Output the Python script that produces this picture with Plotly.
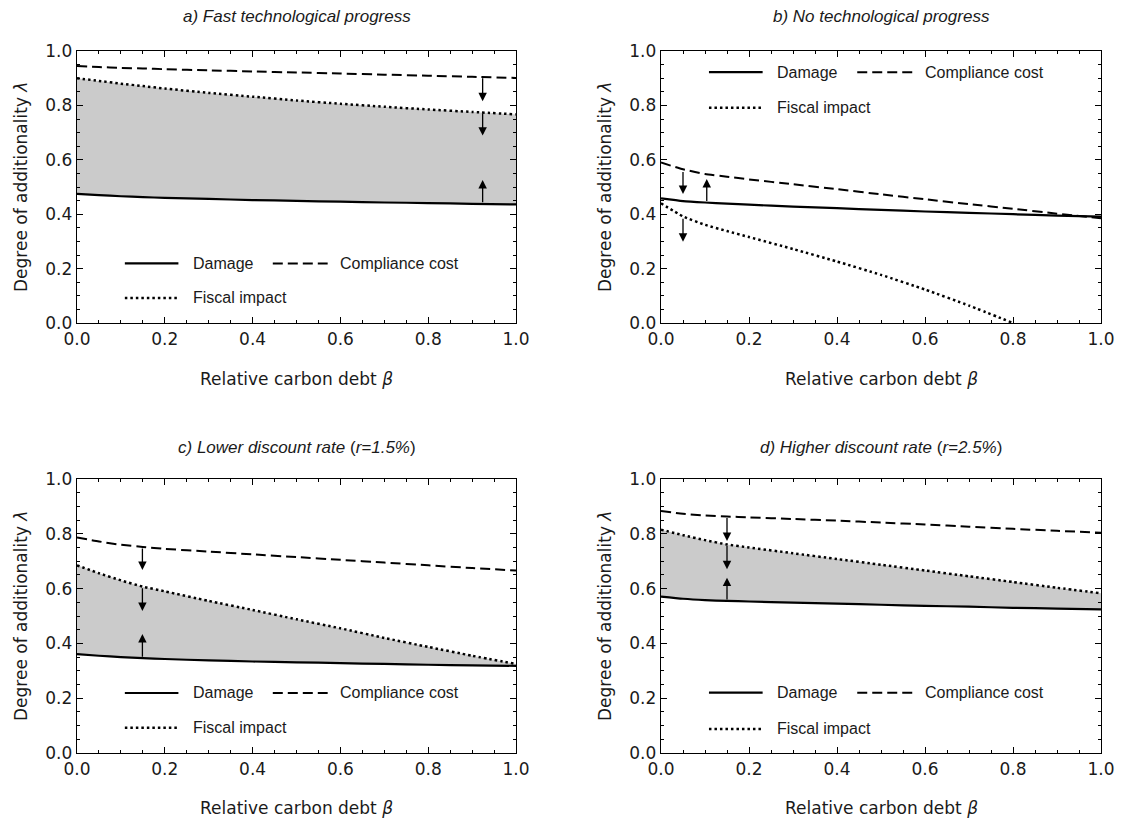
import plotly.graph_objects as go

# ---------------- data ----------------
BETA = [0.0, 0.05, 0.1, 0.15, 0.2, 0.3, 0.4, 0.5, 0.6, 0.7, 0.8, 0.9, 1.0]

A_DAMAGE = [0.475, 0.470, 0.466, 0.463, 0.460, 0.456, 0.452, 0.449, 0.446, 0.443, 0.441, 0.438, 0.436]
A_COMPLIANCE = [0.945, 0.941, 0.938, 0.936, 0.933, 0.929, 0.925, 0.921, 0.917, 0.913, 0.909, 0.905, 0.901]
A_FISCAL = [0.900, 0.890, 0.880, 0.871, 0.862, 0.846, 0.832, 0.818, 0.806, 0.795, 0.785, 0.776, 0.767]

B_DAMAGE = [0.458, 0.448, 0.443, 0.439, 0.435, 0.428, 0.422, 0.416, 0.410, 0.405, 0.400, 0.395, 0.391]
B_COMPLIANCE = [0.590, 0.565, 0.548, 0.538, 0.528, 0.510, 0.492, 0.473, 0.455, 0.437, 0.420, 0.402, 0.385]
B_FISCAL = [0.440, 0.392, 0.361, 0.338, 0.316, 0.272, 0.226, 0.177, 0.123, 0.064, 0.000, None, None]

C_DAMAGE = [0.361, 0.355, 0.350, 0.346, 0.343, 0.338, 0.334, 0.331, 0.328, 0.325, 0.322, 0.320, 0.318]
C_COMPLIANCE = [0.787, 0.772, 0.760, 0.752, 0.745, 0.735, 0.725, 0.715, 0.705, 0.695, 0.685, 0.675, 0.666]
C_FISCAL = [0.685, 0.656, 0.630, 0.607, 0.590, 0.555, 0.522, 0.488, 0.455, 0.420, 0.387, 0.355, 0.325]

D_DAMAGE = [0.571, 0.563, 0.558, 0.555, 0.553, 0.549, 0.545, 0.541, 0.537, 0.534, 0.530, 0.527, 0.524]
D_COMPLIANCE = [0.883, 0.873, 0.867, 0.863, 0.860, 0.854, 0.848, 0.841, 0.834, 0.826, 0.818, 0.811, 0.804]
D_FISCAL = [0.815, 0.795, 0.777, 0.761, 0.750, 0.729, 0.708, 0.687, 0.666, 0.645, 0.624, 0.603, 0.583]

# arrows: (beta, from lambda, to lambda)
A_ARROWS = [(0.924, 0.905, 0.815), (0.924, 0.776, 0.689), (0.924, 0.438, 0.526)]
B_ARROWS = [(0.050, 0.561, 0.474), (0.104, 0.443, 0.529), (0.050, 0.389, 0.299)]
C_ARROWS = [(0.149, 0.752, 0.668), (0.149, 0.607, 0.518), (0.149, 0.346, 0.434)]
D_ARROWS = [(0.150, 0.863, 0.774), (0.150, 0.761, 0.671), (0.150, 0.555, 0.640)]

TITLES = [
    "<i>a) Fast technological progress</i>",
    "<i>b) No technological progress</i>",
    "<i>c) Lower discount rate </i>(<i>r=1.5%</i>)",
    "<i>d) Higher discount rate </i>(<i>r=2.5%</i>)",
]
X_TICKS = [0.0, 0.2, 0.4, 0.6, 0.8, 1.0]
X_TICK_LABELS = ["0.0", "0.2", "0.4", "0.6", "0.8", "1.0"]
Y_TICKS = [0.0, 0.2, 0.4, 0.6, 0.8, 1.0]
Y_TICK_LABELS = ["0.0", "0.2", "0.4", "0.6", "0.8", "1.0"]
X_TITLE = "Relative carbon debt <i>β</i>"
Y_TITLE = "Degree of additionality <i>λ</i>"
LEGEND_NAMES = ["Damage", "Compliance cost", "Fiscal impact"]

# ---------------- layout constants ----------------
W, H = 1121, 821
PX = lambda p: p / W
PY = lambda p: 1 - p / H
XD = [[PX(77), PX(516)], [PX(661), PX(1101)], [PX(77), PX(516)], [PX(661), PX(1101)]]
YD = [[PY(323), PY(51)], [PY(323), PY(51)], [PY(753), PY(479)], [PY(753), PY(479)]]
TITLE_Y = [16, 16, 447, 447]
XTITLE_Y = [379, 379, 808, 808]
LEGEND_ROWS = [(0.219, 0.092), (0.922, 0.791), (0.219, 0.092), (0.220, 0.088)]
FILL = [True, False, True, True]

TICK_FONT = dict(family="DejaVu Sans", size=17, color="#1a1a1a")
TEXT_FONT = dict(family="Liberation Sans, Arial", size=16, color="#1a1a1a")
DASH = "10px,5px"
DOT = "2.5px,3px"

panels = [
    (A_DAMAGE, A_COMPLIANCE, A_FISCAL, A_ARROWS),
    (B_DAMAGE, B_COMPLIANCE, B_FISCAL, B_ARROWS),
    (C_DAMAGE, C_COMPLIANCE, C_FISCAL, C_ARROWS),
    (D_DAMAGE, D_COMPLIANCE, D_FISCAL, D_ARROWS),
]

fig = go.Figure()
annotations = []
shapes = []
layout = dict(
    template="none",
    width=W, height=H, margin=dict(l=0, r=0, t=0, b=0, pad=0, autoexpand=False),
    paper_bgcolor="white", plot_bgcolor="white", showlegend=False,
)

for i, (dmg, comp, fis, arrows) in enumerate(panels):
    n = i + 1
    xa = "x" if n == 1 else f"x{n}"
    ya = "y" if n == 1 else f"y{n}"
    line_s = dict(shape="spline", smoothing=0.5)
    if FILL[i]:
        fig.add_trace(go.Scatter(x=BETA, y=dmg, xaxis=xa, yaxis=ya, mode="lines",
                                 line=dict(width=0, **line_s), hoverinfo="skip"))
        fig.add_trace(go.Scatter(x=BETA, y=fis, xaxis=xa, yaxis=ya, mode="lines",
                                 line=dict(width=0, **line_s), fill="tonexty",
                                 fillcolor="#cbcbcb", hoverinfo="skip"))
    fig.add_trace(go.Scatter(x=BETA, y=comp, xaxis=xa, yaxis=ya, mode="lines", name=LEGEND_NAMES[1],
                             line=dict(color="black", width=2, dash=DASH, **line_s)))
    fig.add_trace(go.Scatter(x=BETA, y=fis, xaxis=xa, yaxis=ya, mode="lines", name=LEGEND_NAMES[2],
                             line=dict(color="black", width=2.5, dash=DOT, **line_s)))
    fig.add_trace(go.Scatter(x=BETA, y=dmg, xaxis=xa, yaxis=ya, mode="lines", name=LEGEND_NAMES[0],
                             line=dict(color="black", width=2.2, **line_s)))

    axis_common = dict(
        range=[0, 1], showgrid=False, zeroline=False, showline=True, linecolor="black",
        linewidth=1.3, mirror="ticks", ticks="inside", ticklen=6, tickwidth=1, tickcolor="black",
        minor=dict(dtick=0.05, ticks="inside", ticklen=3, tickwidth=1, tickcolor="black"),
        tickfont=TICK_FONT, fixedrange=True, automargin=False,
    )
    layout["xaxis" if n == 1 else f"xaxis{n}"] = dict(
        axis_common, domain=XD[i], anchor=ya, tickvals=X_TICKS, ticktext=X_TICK_LABELS)
    layout["yaxis" if n == 1 else f"yaxis{n}"] = dict(
        axis_common, domain=YD[i], anchor=xa, tickvals=Y_TICKS, ticktext=Y_TICK_LABELS)

    xc = (XD[i][0] + XD[i][1]) / 2
    yc = (YD[i][0] + YD[i][1]) / 2
    annotations.append(dict(text=TITLES[i], x=xc, y=PY(TITLE_Y[i]), xref="paper", yref="paper",
                            showarrow=False, xanchor="center", yanchor="middle",
                            font=dict(family="Liberation Sans, Arial", size=17, color="#1a1a1a")))
    annotations.append(dict(text=X_TITLE, x=xc, y=PY(XTITLE_Y[i]), xref="paper", yref="paper",
                            showarrow=False, xanchor="center", yanchor="middle", font=TICK_FONT))
    annotations.append(dict(text=Y_TITLE, x=XD[i][0] - PX(56), y=yc, xref="paper", yref="paper",
                            showarrow=False, xanchor="center", yanchor="middle", textangle=-90,
                            font=TICK_FONT))

    # arrows
    for (bx, y0, y1) in arrows:
        annotations.append(dict(x=bx, y=y1, ax=bx, ay=y0, xref=xa, yref=ya, axref=xa, ayref=ya,
                                text="", showarrow=True, arrowhead=2, arrowsize=1.3,
                                arrowwidth=1.3, arrowcolor="black", standoff=0, startstandoff=0))

    # legend (drawn inside the panel)
    r1, r2 = LEGEND_ROWS[i]
    shapes.append(dict(type="line", xref=xa, yref=ya, x0=0.109, x1=0.231, y0=r1, y1=r1,
                       line=dict(color="black", width=2.2)))
    shapes.append(dict(type="line", xref=xa, yref=ya, x0=0.446, x1=0.571, y0=r1, y1=r1,
                       line=dict(color="black", width=2, dash=DASH)))
    shapes.append(dict(type="line", xref=xa, yref=ya, x0=0.109, x1=0.231, y0=r2, y1=r2,
                       line=dict(color="black", width=2.5, dash=DOT)))
    for (tx, ty, name) in [(0.26, r1, LEGEND_NAMES[0]), (0.595, r1, LEGEND_NAMES[1]),
                           (0.26, r2, LEGEND_NAMES[2])]:
        annotations.append(dict(text=name, x=tx, y=ty, xref=xa, yref=ya, showarrow=False,
                                xanchor="left", yanchor="middle", font=TEXT_FONT))

layout["annotations"] = annotations
layout["shapes"] = shapes
fig.update_layout(**layout)
fig.write_html(
    "out.html",
    config={"displayModeBar": False, "staticPlot": True},
    post_script="document.body.style.margin='0px';document.body.style.padding='0px';"
                "document.documentElement.style.overflow='hidden';",
)
